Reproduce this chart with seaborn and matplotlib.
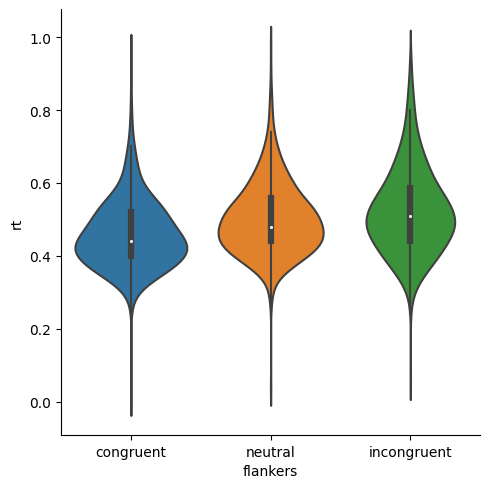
import matplotlib
matplotlib.use("Agg")
import matplotlib.pyplot as plt
import numpy as np
import pandas as pd
import seaborn as sns

# reaction times (s) and how many trials fall on each value, per flanker condition
flankers = ["congruent", "neutral", "incongruent"]

rt_congruent = [0.01, 0.24, 0.26, 0.28, 0.30, 0.32, 0.34, 0.36, 0.38, 0.40, 0.42, 0.44,
                0.46, 0.48, 0.50, 0.52, 0.54, 0.56, 0.58, 0.60, 0.62, 0.64, 0.66, 0.68,
                0.70, 0.72, 0.74, 0.76, 0.78, 0.80, 0.82, 0.84, 0.88, 0.96]
n_congruent = [1, 1, 2, 5, 12, 25, 45, 65, 82, 95, 100, 95,
               85, 75, 68, 60, 52, 40, 28, 20, 15, 12, 10, 8,
               6, 4, 3, 2, 2, 1, 1, 1, 1, 1]

rt_neutral = [0.04, 0.26, 0.28, 0.30, 0.32, 0.34, 0.36, 0.38, 0.40, 0.42, 0.44, 0.46,
              0.48, 0.50, 0.52, 0.54, 0.56, 0.58, 0.60, 0.62, 0.64, 0.66, 0.68, 0.70,
              0.72, 0.74, 0.76, 0.78, 0.80, 0.82, 0.84, 0.86, 0.88, 0.92, 0.98]
n_neutral = [1, 1, 2, 3, 6, 12, 28, 44, 64, 80, 88, 90,
             88, 82, 78, 68, 54, 45, 38, 31, 25, 19, 15, 11,
             8, 6, 4, 3, 3, 2, 2, 1, 1, 1, 1]

rt_incongruent = [0.065, 0.24, 0.26, 0.28, 0.30, 0.32, 0.34, 0.36, 0.38, 0.40, 0.42, 0.44,
                  0.46, 0.48, 0.50, 0.52, 0.54, 0.56, 0.58, 0.60, 0.62, 0.64, 0.66, 0.68,
                  0.70, 0.72, 0.74, 0.76, 0.78, 0.80, 0.82, 0.84, 0.86, 0.88, 0.90, 0.92,
                  0.94, 0.96]
n_incongruent = [1, 1, 1, 3, 6, 12, 20, 30, 40, 50, 58, 66,
                 74, 80, 80, 76, 70, 62, 53, 44, 38, 33, 28, 23,
                 19, 15, 12, 10, 8, 7, 6, 5, 4, 3, 2, 2,
                 1, 1]

frames = []
for nom, rt, n in [("congruent", rt_congruent, n_congruent),
                   ("neutral", rt_neutral, n_neutral),
                   ("incongruent", rt_incongruent, n_incongruent)]:
    frames.append(pd.DataFrame({"flankers": nom, "rt": np.repeat(rt, n)}))
df = pd.concat(frames, ignore_index=True)

gris = (0.25, 0.25, 0.25)
g = sns.catplot(data=df, x="flankers", y="rt", kind="violin", order=flankers,
                hue="flankers", hue_order=flankers, palette="tab10", legend=False,
                common_norm=True, linewidth=1.5, linecolor=gris,
                inner_kws=dict(box_width=4.5, whis_width=1.5, marker="o",
                               markersize=1.8, markeredgewidth=0.4),
                height=4.89, aspect=490 / 489)
g.figure.subplots_adjust(left=0.1245, right=0.98, bottom=0.108, top=0.9796)
ax = g.ax
ax.set_ylim(-0.0915, 1.077)
ax.set_yticks([0.0, 0.2, 0.4, 0.6, 0.8, 1.0])

plt.savefig("out.png", dpi=100)
